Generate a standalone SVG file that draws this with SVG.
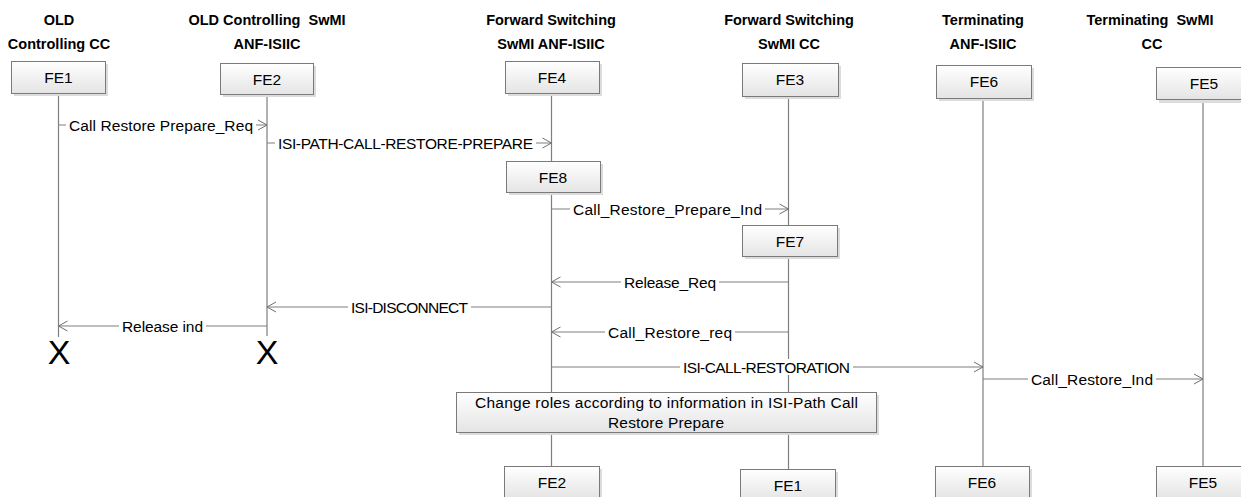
<svg xmlns="http://www.w3.org/2000/svg" width="1241" height="497" viewBox="0 0 1241 497">
<defs>
<linearGradient id="boxFill" x1="0" y1="0" x2="0" y2="1">
<stop offset="0" stop-color="#ffffff"/>
<stop offset="1" stop-color="#e4e4e4"/>
</linearGradient>
<marker id="arrow" markerUnits="userSpaceOnUse" markerWidth="12" markerHeight="12" refX="9" refY="5" orient="auto" viewBox="-1 -1 12 12">
<path d="M0,0 L9,5 L0,10" fill="none" stroke="#707070" stroke-width="1"/>
</marker>
</defs>
<style>
.box{fill:url(#boxFill);stroke:#7a7a7a;stroke-width:1}
.shadow{fill:#dcdcdc}
.life{stroke:#7f7f7f;stroke-width:1.2;fill:none}
.msg{stroke:#7f7f7f;stroke-width:1.2;fill:none;marker-end:url(#arrow)}
.bg{fill:#fff}
.t{font-family:"Liberation Sans",Arial,sans-serif;font-size:15.5px;fill:#000;text-anchor:middle}
.lbl{font-family:"Liberation Sans",Arial,sans-serif;font-size:15.5px;fill:#000;text-anchor:middle}
.hdr{font-family:"Liberation Sans",Arial,sans-serif;font-size:14.5px;font-weight:bold;fill:#000;text-anchor:middle}
.x{font-family:"Liberation Sans",Arial,sans-serif;font-size:34px;fill:#000;text-anchor:middle}
</style>
<rect width="1241" height="497" fill="#fff"/>

<g id="lifelines">
<line class="life" x1="58.5" y1="93" x2="58.5" y2="337"/>
<line class="life" x1="267" y1="94" x2="267" y2="336"/>
<line class="life" x1="551.5" y1="93" x2="551.5" y2="466"/>
<line class="life" x1="788.5" y1="96" x2="788.5" y2="469"/>
<line class="life" x1="983" y1="98" x2="983" y2="466"/>
<line class="life" x1="1203" y1="99" x2="1203" y2="466"/>
</g>

<g id="headers">
<text class="hdr" x="59" y="25">OLD</text>
<text class="hdr" x="59" y="49">Controlling CC</text>
<text class="hdr" x="267" y="25" xml:space="preserve">OLD Controlling  SwMI</text>
<text class="hdr" x="267" y="49">ANF-ISIIC</text>
<text class="hdr" x="551" y="25">Forward Switching</text>
<text class="hdr" x="551" y="49">SwMI ANF-ISIIC</text>
<text class="hdr" x="789" y="25">Forward Switching</text>
<text class="hdr" x="789" y="49">SwMI CC</text>
<text class="hdr" x="983" y="25">Terminating</text>
<text class="hdr" x="983" y="49">ANF-ISIIC</text>
<text class="hdr" x="1150" y="25" xml:space="preserve">Terminating  SwMI</text>
<text class="hdr" x="1152" y="49">CC</text>
</g>

<g id="fe1">
<rect class="shadow" x="14" y="64" width="94" height="32"/>
<rect class="box" x="11.5" y="61.5" width="94" height="32"/>
<text class="t" x="58.5" y="83">FE1</text>
</g>
<g id="fe2">
<rect class="shadow" x="223" y="66" width="93" height="31"/>
<rect class="box" x="220.5" y="63.5" width="93" height="31"/>
<text class="t" x="267" y="84.5">FE2</text>
</g>
<g id="fe4">
<rect class="shadow" x="508" y="64" width="94" height="32"/>
<rect class="box" x="505.5" y="61.5" width="94" height="32"/>
<text class="t" x="552" y="83">FE4</text>
</g>
<g id="fe3">
<rect class="shadow" x="745" y="66" width="96" height="33"/>
<rect class="box" x="742.5" y="63.5" width="96" height="33"/>
<text class="t" x="790" y="85">FE3</text>
</g>
<g id="fe6">
<rect class="shadow" x="939" y="68" width="95" height="33"/>
<rect class="box" x="936.5" y="65.5" width="95" height="33"/>
<text class="t" x="984" y="87">FE6</text>
</g>
<g id="fe5">
<rect class="shadow" x="1159" y="70" width="95" height="33"/>
<rect class="box" x="1156.5" y="67.5" width="95" height="32"/>
<text class="t" x="1204" y="89">FE5</text>
</g>
<g id="fe8">
<rect class="shadow" x="509" y="164" width="94" height="31"/>
<rect class="box" x="506.5" y="161.5" width="94" height="31"/>
<text class="t" x="553" y="182.5">FE8</text>
</g>
<g id="fe7">
<rect class="shadow" x="745" y="228" width="95" height="31"/>
<rect class="box" x="742.5" y="225.5" width="95" height="31"/>
<text class="t" x="790" y="246.5">FE7</text>
</g>
<g id="change-roles">
<rect class="shadow" x="459" y="395" width="420" height="40"/>
<rect class="box" x="456.5" y="392.5" width="420" height="40"/>
<text class="t" x="666.5" y="408" textLength="383">Change roles according to information in ISI-Path Call</text>
<text class="t" x="666" y="428" textLength="116">Restore Prepare</text>
</g>
<g id="fe2-end">
<rect class="shadow" x="507" y="469" width="95" height="32"/>
<rect class="box" x="504.5" y="466.5" width="95" height="32"/>
<text class="t" x="552" y="488">FE2</text>
</g>
<g id="fe1-end">
<rect class="shadow" x="743" y="472" width="95" height="32"/>
<rect class="box" x="740.5" y="469.5" width="95" height="32"/>
<text class="t" x="788" y="491">FE1</text>
</g>
<g id="fe6-end">
<rect class="shadow" x="938" y="469" width="94" height="32"/>
<rect class="box" x="935.5" y="466.5" width="94" height="32"/>
<text class="t" x="982" y="488">FE6</text>
</g>
<g id="fe5-end">
<rect class="shadow" x="1159" y="469" width="94" height="32"/>
<rect class="box" x="1156.5" y="466.5" width="94" height="32"/>
<text class="t" x="1203" y="488">FE5</text>
</g>
<g id="fe1-x"><text class="x" x="59" y="364">X</text></g>
<g id="fe2-x"><text class="x" x="267" y="364">X</text></g>

<g id="connectors">
<line class="msg" x1="58.5" y1="125" x2="267" y2="125"/>
<rect class="bg" x="66" y="117" width="190" height="16"/>
<text class="lbl" x="161" y="130.5" textLength="184">Call Restore Prepare_Req</text>

<line class="msg" x1="267" y1="143" x2="551.5" y2="143"/>
<rect class="bg" x="275" y="135" width="261" height="16"/>
<text class="lbl" x="405.5" y="148.5" textLength="255">ISI-PATH-CALL-RESTORE-PREPARE</text>

<line class="msg" x1="551.5" y1="209" x2="788.5" y2="209"/>
<rect class="bg" x="570" y="201" width="195" height="16"/>
<text class="lbl" x="667.5" y="214.5" textLength="189">Call_Restore_Prepare_Ind</text>

<line class="msg" x1="788.5" y1="282" x2="551.5" y2="282"/>
<rect class="bg" x="621" y="274" width="98" height="16"/>
<text class="lbl" x="670" y="287.5" textLength="92">Release_Req</text>

<line class="msg" x1="551.5" y1="307" x2="267" y2="307"/>
<rect class="bg" x="348" y="299" width="123" height="16"/>
<text class="lbl" x="409.5" y="312.5" textLength="117">ISI-DISCONNECT</text>

<line class="msg" x1="267" y1="326" x2="58.5" y2="326"/>
<rect class="bg" x="119" y="318" width="87" height="16"/>
<text class="lbl" x="162.5" y="331.5" textLength="81">Release ind</text>

<line class="msg" x1="788.5" y1="332" x2="551.5" y2="332"/>
<rect class="bg" x="605" y="324" width="130" height="16"/>
<text class="lbl" x="670" y="337.5" textLength="124">Call_Restore_req</text>

<line class="msg" x1="551.5" y1="367" x2="983" y2="367"/>
<rect class="bg" x="680" y="359" width="173" height="16"/>
<text class="lbl" x="766.5" y="372.5" textLength="167">ISI-CALL-RESTORATION</text>

<line class="msg" x1="983" y1="379" x2="1203" y2="379"/>
<rect class="bg" x="1028" y="371" width="128" height="16"/>
<text class="lbl" x="1092" y="384.5" textLength="122">Call_Restore_Ind</text>
</g>
</svg>
